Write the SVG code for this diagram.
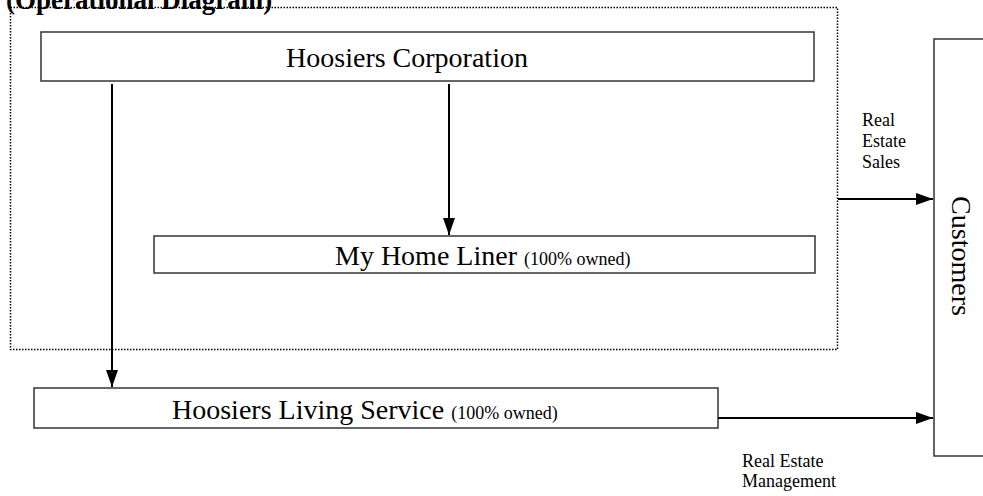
<svg xmlns="http://www.w3.org/2000/svg" width="983" height="496" viewBox="0 0 983 496">
<style>
.box{fill:#fff;stroke:#333;stroke-width:1.5}
.big{font-family:"Liberation Serif","Times New Roman",serif;font-size:28px;fill:#000}
.sm{font-family:"Liberation Serif","Times New Roman",serif;font-size:18px;fill:#000}
.conn{stroke:#000;stroke-width:2;fill:none}
</style>
<defs>
<marker id="ah" viewBox="0 0 17 12" refX="17" refY="6" markerWidth="17" markerHeight="12" markerUnits="userSpaceOnUse" orient="auto">
<path d="M0,0 L17,6 L0,12 Z" fill="#000"/>
</marker>
</defs>
<rect width="983" height="496" fill="#fff"/>
<text x="6" y="9" style="font-family:'Liberation Serif','Times New Roman',serif;font-size:27px;font-weight:bold">(Operational Diagram)</text>
<rect id="group-boundary" x="10.5" y="7.5" width="827" height="342" fill="none" stroke="#000" stroke-width="1.5" stroke-dasharray="1.5 1.5"/>
<g id="hoosiers-corporation">
<rect class="box" x="41" y="32" width="773" height="49"/>
<text class="big" x="407" y="67" text-anchor="middle">Hoosiers Corporation</text>
</g>
<g id="my-home-liner">
<rect class="box" x="154" y="236" width="661" height="37"/>
<text x="335" y="265"><tspan class="big">My Home Liner </tspan><tspan class="sm">(100% owned)</tspan></text>
</g>
<g id="hoosiers-living-service">
<rect class="box" x="34" y="388" width="684" height="40"/>
<text x="172" y="419"><tspan class="big">Hoosiers Living Service </tspan><tspan class="sm">(100% owned)</tspan></text>
</g>
<g id="customers">
<rect class="box" x="934" y="39" width="100" height="417"/>
<text class="big" transform="translate(952,256) rotate(90)" text-anchor="middle">Customers</text>
</g>
<g id="connectors">
<line class="conn" x1="112" y1="84" x2="112" y2="387" marker-end="url(#ah)"/>
<line class="conn" x1="449" y1="84" x2="449" y2="235" marker-end="url(#ah)"/>
<line class="conn" x1="838" y1="199" x2="933" y2="199" marker-end="url(#ah)"/>
<line class="conn" x1="718" y1="418" x2="933" y2="418" marker-end="url(#ah)"/>
<text class="sm"><tspan x="862" y="126">Real</tspan><tspan x="862" y="147">Estate</tspan><tspan x="862" y="168">Sales</tspan></text>
<text class="sm"><tspan x="742" y="467">Real Estate</tspan><tspan x="742" y="487">Management</tspan></text>
</g>
</svg>
